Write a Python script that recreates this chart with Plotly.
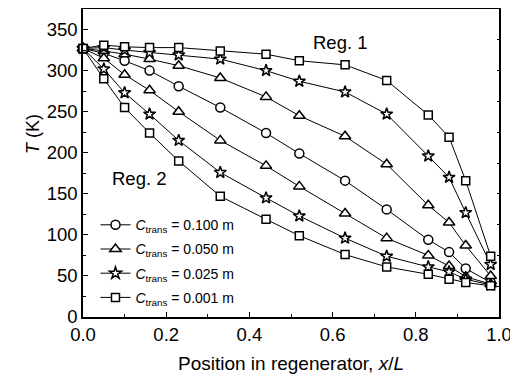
import plotly.graph_objects as go

# Position in regenerator x/L
x_pos = [0, 0.05, 0.10, 0.16, 0.23, 0.33, 0.44, 0.52, 0.63, 0.73, 0.83, 0.88, 0.92, 0.98]

# Temperatures (K)
T_c0100 = [327, 321, 312, 300, 281, 255, 224, 199, 166, 131, 94, 79, 59, 42]
T_c0050_reg1 = [327, 324, 320, 314, 306, 291, 268, 245, 220, 186, 136, 115, 87, 50]
T_c0050_reg2 = [327, 315, 295, 276, 250, 215, 184, 159, 126, 96, 75, 62, 49, 40]
T_c0025_reg1 = [327, 328, 325, 322, 319, 314, 300, 287, 274, 247, 196, 170, 127, 64]
T_c0025_reg2 = [327, 302, 273, 247, 215, 176, 145, 123, 96, 74, 61, 55, 46, 39]
T_c0001_reg1 = [327, 331, 329, 328, 328, 324, 320, 312, 307, 288, 246, 219, 166, 74]
T_c0001_reg2 = [327, 290, 255, 224, 190, 147, 119, 99, 76, 61, 52, 46, 42, 38]

legend_names = [
    "<i>C</i><sub>trans</sub> = 0.100 m",
    "<i>C</i><sub>trans</sub> = 0.050 m",
    "<i>C</i><sub>trans</sub> = 0.025 m",
    "<i>C</i><sub>trans</sub> = 0.001 m",
]

FONT = "Liberation Sans, Arial, sans-serif"

series = [
    (T_c0100, "circle", 9, legend_names[0], True, "g1"),
    (T_c0050_reg1, "triangle-up", 10, legend_names[1], True, "g2"),
    (T_c0025_reg1, "star", 9, legend_names[2], True, "g3"),
    (T_c0001_reg1, "square", 8, legend_names[3], True, "g4"),
    (T_c0050_reg2, "triangle-up", 10, legend_names[1], False, "g2"),
    (T_c0025_reg2, "star", 9, legend_names[2], False, "g3"),
    (T_c0001_reg2, "square", 8, legend_names[3], False, "g4"),
]

fig = go.Figure()
for vals, sym, sz, name, show, grp in series:
    fig.add_trace(go.Scatter(
        x=x_pos, y=vals, mode="lines+markers", name=name,
        showlegend=show, legendgroup=grp,
        line=dict(color="black", width=1),
        marker=dict(symbol=sym, size=sz, color="white",
                    line=dict(color="black", width=1.5)),
        cliponaxis=False,
    ))

# invisible trace for right-side ticks
fig.add_trace(go.Scatter(x=[0], y=[0], yaxis="y2", mode="markers",
                         marker=dict(opacity=0), showlegend=False, hoverinfo="skip"))

# page has an 8px body margin; figure is sized to fit the window
L, R, T, B = 75, 19, 1, 57
W, H = 510, 366
plot_w = W - L - R
plot_h = H - T - B


def px_to_paper(px, py):
    # px, py are reference-image pixel coordinates
    return (px - 8 - L) / plot_w, (H - B - (py - 8)) / plot_h


tk_x, tk_y = px_to_paper(33, 134)
r1_x, r1_y = px_to_paper(340, 43)
r2_x, r2_y = px_to_paper(139, 178)

fig.update_layout(
    width=W, height=H,
    margin=dict(l=L, r=R, t=T, b=B, autoexpand=False),
    paper_bgcolor="white", plot_bgcolor="white",
    font=dict(family=FONT, size=14, color="black"),
    showlegend=True,
    legend=dict(x=0.03, y=0.35, xanchor="left", yanchor="top",
                bgcolor="rgba(0,0,0,0)", font=dict(size=14, family=FONT),
                tracegroupgap=3),
    xaxis=dict(range=[0, 1.0], dtick=0.2, tickformat=".1f",
               showline=True, linecolor="black", linewidth=1.5, mirror=True,
               ticks="inside", ticklen=5, tickwidth=1, tickcolor="black",
               minor=dict(ticks="inside", ticklen=3, dtick=0.1, tickcolor="black"),
               showgrid=False, zeroline=False,
               title=dict(text="Position in regenerator, <i>x</i>/<i>L</i>",
                          font=dict(size=19), standoff=13),
               tickfont=dict(size=18.5)),
    yaxis=dict(range=[0, 375], tickvals=[0, 50, 100, 150, 200, 250, 300, 350],
               showline=True, linecolor="black", linewidth=1.5, mirror=True,
               ticks="inside", ticklen=5, tickwidth=1, tickcolor="black",
               minor=dict(ticks="inside", ticklen=3, dtick=25, tickcolor="black"),
               showgrid=False, zeroline=False, tickfont=dict(size=18.5)),
    yaxis2=dict(range=[0, 10], dtick=1, overlaying="y", side="right",
                showticklabels=False, ticks="inside", ticklen=2,
                tickcolor="black", showgrid=False, zeroline=False, showline=False),
    annotations=[
        dict(text="<i>T</i> (K)", x=tk_x, y=tk_y, xref="paper", yref="paper",
             xanchor="center", yanchor="middle",
             showarrow=False, textangle=-90, font=dict(size=18)),
        dict(text="Reg. 1", x=r1_x, y=r1_y, xref="paper", yref="paper",
             xanchor="center", yanchor="middle",
             showarrow=False, font=dict(size=18.5)),
        dict(text="Reg. 2", x=r2_x, y=r2_y, xref="paper", yref="paper",
             xanchor="center", yanchor="middle",
             showarrow=False, font=dict(size=18.5)),
    ],
)

fig.write_html("out.html")
